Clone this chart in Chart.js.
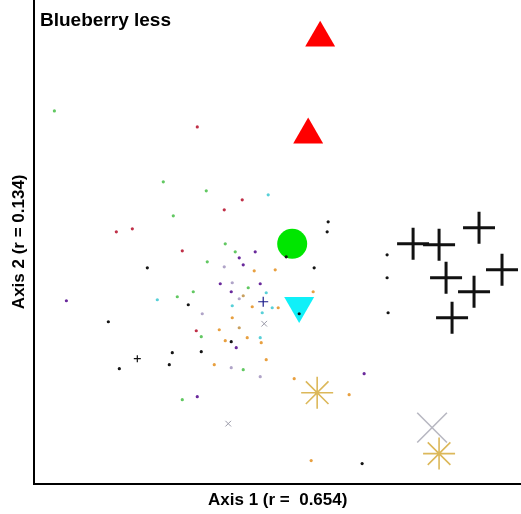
<!DOCTYPE html>
<html>
<head>
<meta charset="utf-8">
<script src="https://cdn.jsdelivr.net/npm/chart.js@4/dist/chart.umd.min.js"></script>
<style>
  body { margin: 0; background: #fff; }
</style>
</head>
<body>
<canvas id="ordChart" width="521" height="514"></canvas>
<script>
// ordination scores (Axis 1, Axis 2)
const greenPts = [[-2.26,1.59],[-1.17,0.88],[-0.74,0.79],[-1.07,0.54],[-0.55,0.26],[-0.45,0.18],[-0.73,0.08],[-0.32,-0.18],[-1.03,-0.27],[-0.87,-0.22],[-0.79,-0.67],[-0.37,-1.00],[-0.98,-1.30]];
const redPts = [[-0.83,1.43],[-0.38,0.70],[-0.56,0.60],[-1.64,0.38],[-1.48,0.41],[-0.98,0.19],[-0.84,-0.61]];
const purplePts = [[-0.25,0.18],[-0.41,0.12],[-0.37,0.05],[-0.60,-0.14],[-0.20,-0.14],[-0.49,-0.22],[-0.44,-0.78],[-0.83,-1.27],[0.84,-1.04],[-2.14,-0.31]];
const blackPts = [[-1.33,0.02],[-0.92,-0.35],[-1.72,-0.52],[-0.49,-0.72],[-1.08,-0.83],[-0.79,-0.82],[-1.11,-0.95],[-1.61,-0.99],[0.06,0.13],[0.48,0.48],[0.47,0.38],[0.34,0.02],[0.19,-0.44],[1.07,0.15],[1.07,-0.08],[1.08,-0.43],[0.82,-1.94]];
const orangePts = [[-0.26,-0.01],[-0.05,0.00],[-0.28,-0.37],[-0.02,-0.38],[-0.48,-0.48],[-0.61,-0.60],[-0.55,-0.71],[-0.33,-0.68],[-0.19,-0.73],[-0.66,-0.95],[-0.14,-0.90],[0.14,-1.09],[0.33,-0.22],[0.69,-1.25],[0.31,-1.91]];
const tanPts = [[-0.37,-0.26],[-0.41,-0.58]];
const cyanPts = [[-0.12,0.75],[-1.23,-0.30],[-0.14,-0.23],[-0.08,-0.38],[-0.48,-0.36],[-0.20,-0.68],[-0.18,-0.43]];
const lavenderPts = [[-0.56,0.03],[-0.48,-0.13],[-0.41,-0.29],[-0.78,-0.44],[-0.49,-0.98],[-0.20,-1.07]];
const navyPlus = [[-0.17,-0.32]];
const grayXSmall = [[-0.16,-0.54],[-0.52,-1.54]];
const blackPlusSmall = [[-1.43,-0.89]];

// group centroids
const redTriangles = [[0.40,2.32],[0.28,1.35]];
const greenCircle = [[0.12,0.26]];
const cyanTriangle = [[0.19,-0.36]];
const blackCrosses = [[1.33,0.26],[1.59,0.25],[1.99,0.42],[1.66,-0.08],[2.22,0.00],[1.94,-0.22],[1.72,-0.48]];
const goldStars = [[0.37,-1.23],[1.59,-1.84]];
const grayX = [[1.52,-1.58]];

const xRange = [-2.46, 2.41];
const yRange = [-2.14, 2.70];

const FONT = '"Liberation Sans", Arial, sans-serif';

function pts(arr) {
  return arr.map(p => ({ x: p[0], y: p[1] }));
}

function dots(arr, color) {
  return {
    data: pts(arr),
    pointStyle: 'circle',
    pointRadius: 1.6,
    backgroundColor: color,
    borderWidth: 0,
    order: 1
  };
}

const insideTitle = {
  id: 'insideTitle',
  afterDraw(chart) {
    const ctx = chart.ctx;
    ctx.save();
    ctx.fillStyle = '#000';
    ctx.font = 'bold 19px ' + FONT;
    ctx.textBaseline = 'alphabetic';
    ctx.fillText('Blueberry less', 40, 26);
    ctx.restore();
  }
};

new Chart(document.getElementById('ordChart').getContext('2d'), {
  type: 'scatter',
  data: {
    datasets: [
      {
        data: pts(redTriangles), pointStyle: 'triangle', pointRadius: 17.3,
        backgroundColor: '#ff0000', borderWidth: 0, order: 5
      },
      {
        data: pts(greenCircle), pointStyle: 'circle', pointRadius: 15,
        backgroundColor: '#00e600', borderWidth: 0, order: 5
      },
      {
        data: pts(cyanTriangle), pointStyle: 'triangle', rotation: 180, pointRadius: 17.3,
        backgroundColor: '#10f0f8', borderWidth: 0, order: 5
      },
      {
        data: pts(blackCrosses), pointStyle: 'cross', pointRadius: 16,
        borderColor: '#111', borderWidth: 3, order: 5
      },
      {
        data: pts(goldStars), pointStyle: 'star', pointRadius: 16,
        borderColor: '#dcb85a', borderWidth: 1.6, order: 5
      },
      {
        data: pts(grayX), pointStyle: 'crossRot', pointRadius: 21,
        borderColor: '#b8b8c2', borderWidth: 1.6, order: 5
      },
      dots(greenPts, '#62c862'),
      dots(redPts, '#c03048'),
      dots(purplePts, '#6a2a9c'),
      dots(orangePts, '#e8a040'),
      dots(tanPts, '#c8a060'),
      dots(cyanPts, '#58d0d8'),
      dots(lavenderPts, '#b0a4c8'),
      dots(blackPts, '#151515'),
      {
        data: pts(navyPlus), pointStyle: 'cross', pointRadius: 5,
        borderColor: '#1a1a8a', borderWidth: 1.2, order: 0
      },
      {
        data: pts(grayXSmall), pointStyle: 'crossRot', pointRadius: 4,
        borderColor: '#9a9aa8', borderWidth: 1, order: 0
      },
      {
        data: pts(blackPlusSmall), pointStyle: 'cross', pointRadius: 3.5,
        borderColor: '#111', borderWidth: 1.2, order: 0
      }
    ]
  },
  options: {
    responsive: false,
    animation: false,
    events: [],
    layout: { padding: 0, autoPadding: false },
    plugins: {
      legend: { display: false },
      tooltip: { enabled: false }
    },
    scales: {
      x: {
        type: 'linear',
        min: xRange[0],
        max: xRange[1],
        grid: { display: false, drawTicks: false },
        ticks: { display: false },
        border: { display: true, color: '#000', width: 2 },
        title: {
          display: true,
          text: 'Axis 1 (r =  0.654)',
          color: '#000',
          font: { family: FONT, size: 17, weight: 'bold' },
          padding: { top: 7, bottom: 3 }
        }
      },
      y: {
        type: 'linear',
        min: yRange[0],
        max: yRange[1],
        grid: { display: false, drawTicks: false },
        ticks: { display: false },
        border: { display: true, color: '#000', width: 2 },
        title: {
          display: true,
          text: 'Axis 2 (r = 0.134)',
          color: '#000',
          font: { family: FONT, size: 17, weight: 'bold' },
          padding: { top: 9, bottom: 5 }
        }
      }
    }
  },
  plugins: [insideTitle]
});
</script>
</body>
</html>
